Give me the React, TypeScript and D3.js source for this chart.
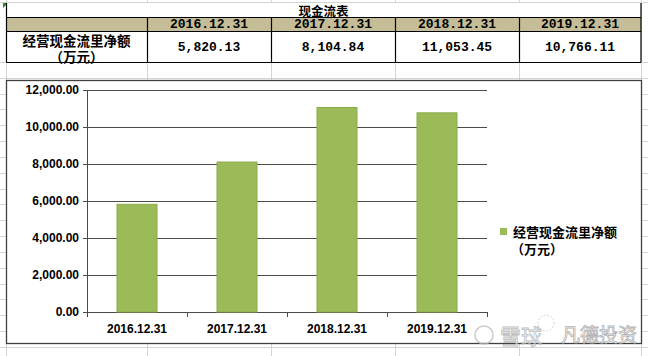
import React from "react";
import * as d3 from "d3";

const categories = ["2016.12.31", "2017.12.31", "2018.12.31", "2019.12.31"];
const values = [5820.13, 8104.84, 11053.45, 10766.11];
const valueLabels = ["5,820.13", "8,104.84", "11,053.45", "10,766.11"];
const yTicks = [0, 2000, 4000, 6000, 8000, 10000, 12000];
const tableTitle = "现金流表";
const rowLabel1 = "经营现金流里净额";
const rowLabel2 = "（万元）";
const seriesName1 = "经营现金流里净额";
const seriesName2 = "（万元）";

const W = 648;
const H = 356;

export default function App() {
  const colEdges = [6, 147, 271, 395, 519, 641];
  const rowLines = d3.range(0, 19).map((k) => 62 + k * 15.83);

  const x = d3.scaleBand<string>().domain(categories).range([87, 487]).paddingInner(0).paddingOuter(0);
  const y = d3.scaleLinear().domain([0, 12000]).range([312, 90]);
  const barW = x.bandwidth() * 0.4;

  const cjk = "'Noto Sans CJK SC', 'Noto Sans', sans-serif";
  const mono = "'Liberation Mono', 'DejaVu Sans Mono', monospace";
  const sans = "'Liberation Sans', Arial, sans-serif";
  const fmt = d3.format(",.2f");

  return (
    <svg width={W} height={H} style={{ position: "absolute", left: 0, top: 0, background: "#fff" }}>
      {/* spreadsheet gridlines */}
      <g stroke="#d4d4d4" strokeWidth={1}>
        {rowLines.map((r, i) => (
          <line key={"r" + i} x1={0} x2={W} y1={Math.round(r) + 0.5} y2={Math.round(r) + 0.5} />
        ))}
        {colEdges.map((c, i) => (
          <line key={"c" + i} x1={c + 0.5} x2={c + 0.5} y1={0} y2={H} />
        ))}
        <line x1={0} x2={W} y1={2.5} y2={2.5} />
      </g>
      {/* comment indicator */}
      <path d="M3,3 L8,3 L3,8 Z" fill="#2e8b2e" />

      {/* table */}
      <rect x={6.5} y={3} width={634.5} height={59} fill="#fff" />
      <rect x={6.5} y={17.5} width={634.5} height={13.5} fill="#c4bd97" />
      <g stroke="#000" strokeWidth={1.2} fill="none">
        <line x1={6.5} x2={6.5} y1={3} y2={62.5} />
        <line x1={641} x2={641} y1={3} y2={62.5} />
        <line x1={6.5} x2={641} y1={17.5} y2={17.5} />
        <line x1={6.5} x2={641} y1={31.5} y2={31.5} />
        <line x1={6.5} x2={641} y1={62.5} y2={62.5} />
        {colEdges.slice(1, 5).map((c, i) => (
          <line key={"tc" + i} x1={c + 0.5} x2={c + 0.5} y1={17.5} y2={62.5} />
        ))}
      </g>
      <text x={323.5} y={10} textAnchor="middle" dominantBaseline="central" fontFamily={cjk} fontWeight={700} fontSize={12.5}>
        {tableTitle}
      </text>
      {categories.map((c, i) => (
        <text key={"h" + i} x={(colEdges[i + 1] + colEdges[i + 2]) / 2} y={24.5} textAnchor="middle" dominantBaseline="central"
          fontFamily={mono} fontWeight={700} fontSize={13}>
          {c}
        </text>
      ))}
      {valueLabels.map((v, i) => (
        <text key={"v" + i} x={(colEdges[i + 1] + colEdges[i + 2]) / 2} y={47} textAnchor="middle" dominantBaseline="central"
          fontFamily={mono} fontWeight={700} fontSize={13}>
          {v}
        </text>
      ))}
      <text x={76.5} y={40} textAnchor="middle" dominantBaseline="central" fontFamily={cjk} fontWeight={700} fontSize={13.5}>
        {rowLabel1}
      </text>
      <text x={76.5} y={55.5} textAnchor="middle" dominantBaseline="central" fontFamily={cjk} fontWeight={700} fontSize={13.5}>
        {rowLabel2}
      </text>

      {/* chart box */}
      <rect x={6.5} y={80.5} width={635} height={263} fill="#fff" stroke="#404040" strokeWidth={1.3} />

      {/* gridlines */}
      <g stroke="#4a4a4a" strokeWidth={1}>
        {yTicks.map((t) => (
          <line key={"g" + t} x1={83} x2={487} y1={Math.round(y(t)) + 0.5} y2={Math.round(y(t)) + 0.5} />
        ))}
        <line x1={87.5} x2={87.5} y1={90} y2={312.5} />
        {[...categories.map((c) => x(c) as number), 487].map((px, i) => (
          <line key={"xt" + i} x1={Math.round(px) + 0.5} x2={Math.round(px) + 0.5} y1={312} y2={317} />
        ))}
      </g>

      {/* bars */}
      {values.map((v, i) => {
        const cx = (x(categories[i]) as number) + x.bandwidth() / 2;
        return (
          <rect key={"b" + i} x={cx - barW / 2} y={y(v)} width={barW} height={y(0) - y(v)}
            fill="#9bbb59" stroke="#8aac48" strokeWidth={1} />
        );
      })}

      {/* y labels */}
      {yTicks.map((t) => (
        <text key={"yl" + t} x={79} y={y(t)} textAnchor="end" dominantBaseline="central"
          fontFamily={sans} fontWeight={700} fontSize={12} fill="#000">
          {fmt(t)}
        </text>
      ))}
      {/* x labels */}
      {categories.map((c) => (
        <text key={"xl" + c} x={(x(c) as number) + x.bandwidth() / 2} y={328.5} textAnchor="middle" dominantBaseline="central"
          fontFamily={sans} fontWeight={700} fontSize={12} fill="#000">
          {c}
        </text>
      ))}

      {/* legend */}
      <rect x={500} y={228} width={7} height={7} fill="#9bbb59" />
      <text x={513} y={231.5} dominantBaseline="central" fontFamily={cjk} fontWeight={700} fontSize={13}>
        {seriesName1}
      </text>
      <text x={511} y={248} dominantBaseline="central" fontFamily={cjk} fontWeight={700} fontSize={13}>
        {seriesName2}
      </text>

      {/* watermark */}
      <g opacity={0.75}>
        <circle cx={484} cy={335} r={9} fill="none" stroke="#bbb" strokeWidth={1.5} />
        <circle cx={546} cy={323} r={8} fill="none" stroke="#bbb" strokeWidth={1} strokeDasharray="1.5,2" />
        <text x={500} y={335} dominantBaseline="central" fontFamily={cjk} fontSize={21} fill="#fff" stroke="#aaa" strokeWidth={0.8}>
          雪球
        </text>
        <text x={561} y={333} dominantBaseline="central" fontFamily={cjk} fontSize={19} fill="#fff" stroke="#999" strokeWidth={0.8}>
          凡德投资
        </text>
      </g>
    </svg>
  );
}
